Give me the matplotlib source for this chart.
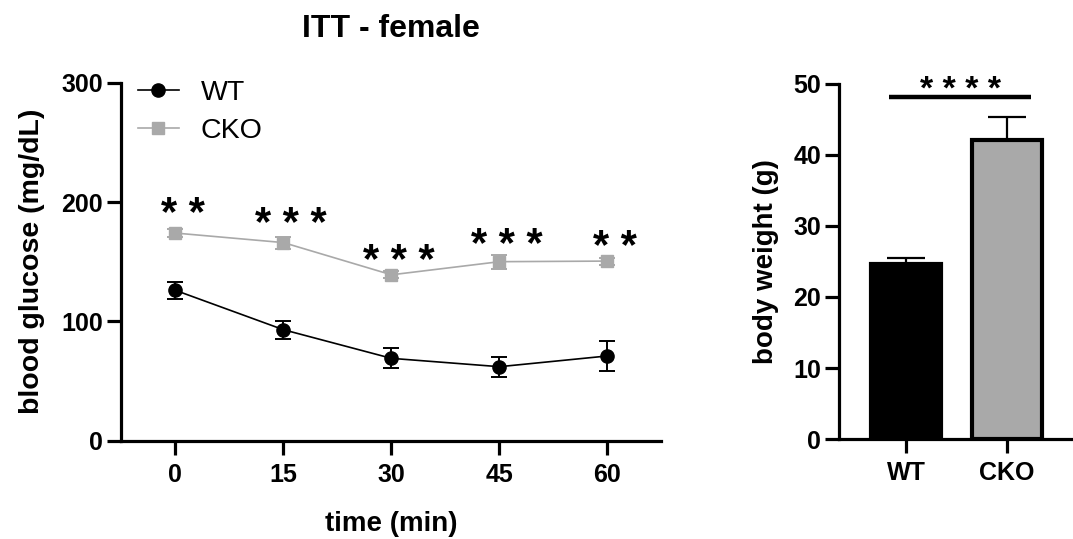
import matplotlib
matplotlib.use('Agg')
import matplotlib.pyplot as plt

plt.rcParams['font.family'] = ['Liberation Sans', 'DejaVu Sans']

# ITT time course
time_min = [0, 15, 30, 45, 60]
wt_mean = [126, 93, 69, 62, 71]
wt_sem = [7, 7.5, 8.5, 8.5, 12.5]
cko_mean = [174, 166, 139, 150, 150.5]
cko_sem = [3, 5, 3, 6, 3]
stars = ['**', '***', '***', '***', '**']
star_y = [200.5, 192, 161, 174, 172.5]

# body weight
groups = ['WT', 'CKO']
bw_mean = [24.7, 42.05]
bw_sem = [0.75, 3.35]
bw_stars = '****'
bw_sig_y = 48.2

black = '#000000'
grey = '#a9a9a9'


def spaced(s):
    return ' '.join(s)


def style_axis(ax):
    for side in ['top', 'right']:
        ax.spines[side].set_visible(False)
    for side in ['left', 'bottom']:
        ax.spines[side].set_linewidth(2.3)
    ax.tick_params(width=2.3, length=10, labelsize=18)
    ax.tick_params(axis='x', pad=6)
    ax.tick_params(axis='y', pad=3)
    for lab in ax.get_xticklabels() + ax.get_yticklabels():
        lab.set_fontweight('bold')


fig = plt.figure(figsize=(10.73, 5.39), dpi=100)
ax1 = fig.add_axes([0.1128, 0.1824, 0.5030, 0.6642])
ax2 = fig.add_axes([0.7822, 0.1855, 0.2178, 0.6587])

# --- left panel
eb_wt = ax1.errorbar(time_min, wt_mean, yerr=wt_sem, color=black, marker='o', ms=9.5,
                     lw=1.2, elinewidth=1.4, capsize=5.5, capthick=1.4, zorder=3)
eb_cko = ax1.errorbar(time_min, cko_mean, yerr=cko_sem, color=grey, marker='s', ms=9,
                      lw=1.2, elinewidth=1.4, capsize=5.5, capthick=1.4, zorder=2)
for x, y, s in zip(time_min, star_y, stars):
    ax1.annotate(spaced(s), (x + 1, y), xytext=(0, -17.4), textcoords='offset points',
                 ha='center', va='baseline', fontsize=30, fontweight='bold')

ax1.set_xlim(-7.55, 67.4)
ax1.set_ylim(0, 300)
ax1.set_xticks(time_min)
ax1.set_yticks([0, 100, 200, 300])
style_axis(ax1)
ax1.set_xlabel('time (min)', fontsize=20, fontweight='bold', labelpad=17)
ax1.set_ylabel('blood glucose (mg/dL)', fontsize=20.5, fontweight='bold', labelpad=12)
ax1.set_title('ITT - female', fontsize=23, fontweight='bold', pad=33)

ax1.legend([eb_wt[0], eb_cko[0]], ['WT', 'CKO'], loc='upper left',
           bbox_to_anchor=(0.01, 1.04), frameon=False, fontsize=20.5,
           handlelength=1.45, handletextpad=0.75, labelspacing=0.42, borderaxespad=0)

# --- right panel
xpos = range(len(groups))
ax2.bar(xpos, bw_mean, width=0.7, color=[black, grey], edgecolor=black,
        linewidth=3, zorder=2)
ax2.errorbar(xpos, bw_mean, yerr=[[0, 0], bw_sem], fmt='none', ecolor=black,
             elinewidth=1.6, capsize=13.5, capthick=1.6, zorder=1)
ax2.plot([-0.17, 1.24], [bw_sig_y, bw_sig_y], color=black, lw=3.2,
         solid_capstyle='butt', clip_on=False)
ax2.annotate(spaced(bw_stars), (0.535, bw_sig_y), xytext=(0, -1.5),
             textcoords='offset points', ha='center', va='baseline',
             fontsize=24.5, fontweight='bold', annotation_clip=False)

ax2.set_xlim(-0.66, 1.653)
ax2.set_ylim(0, 50)
ax2.set_xticks(list(xpos))
ax2.set_xticklabels(groups)
ax2.set_yticks([0, 10, 20, 30, 40, 50])
style_axis(ax2)
ax2.set_ylabel('body weight (g)', fontsize=20, fontweight='bold', labelpad=10)

fig.savefig('out.png', dpi=100)
